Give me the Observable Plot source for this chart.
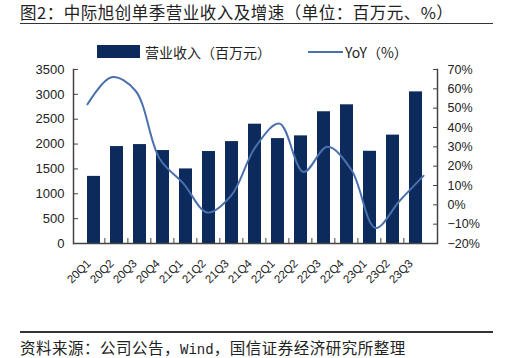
<!DOCTYPE html>
<html><head><meta charset="utf-8">
<script src="https://cdn.jsdelivr.net/npm/d3@7"></script>
<script src="https://cdn.jsdelivr.net/npm/@observablehq/plot@0.6"></script>
<style>
body{margin:0;background:#fff}
#wrap{position:relative;width:514px;height:358px;background:#fff;font-family:"Noto Sans CJK SC","Noto Sans",sans-serif;color:#222}
.abs{position:absolute;white-space:nowrap}
#title{left:20px;top:1px;font-size:16.5px;line-height:22px;letter-spacing:0.5px}
.leg{font-size:14px;line-height:20px;top:42px}
#src{left:20px;top:336px;font-size:15.5px;line-height:22px;letter-spacing:0.5px}
.mono{font-family:"Liberation Mono","DejaVu Sans Mono",monospace;font-size:14px;letter-spacing:0}
</style></head><body>
<div id="wrap">
  <div id="title" class="abs">图2：中际旭创单季营业收入及增速（单位：百万元、%）</div>
  <div class="abs" style="left:20px;top:22.5px;width:473px;height:1.5px;background:#333"></div>
  <div id="p1" class="abs" style="left:0;top:0"></div>
  <div id="p2" class="abs" style="left:0;top:0"></div>
  <div class="abs" style="left:97px;top:45px;width:43px;height:13px;background:#0c2b5c"></div>
  <div class="abs leg" style="left:145px">营业收入（百万元）</div>
  <div class="abs" style="left:308px;top:51px;width:35px;height:2px;background:#4a70ad"></div>
  <div class="abs leg" style="left:345px">YoY（%）</div>
  <div class="abs" style="left:20px;top:331px;width:473px;height:1.5px;background:#333"></div>
  <div id="src" class="abs">资料来源：公司公告，<span class="mono">Wind</span>，国信证券经济研究所整理</div>
</div>
<script>
const quarters = ["20Q1","20Q2","20Q3","20Q4","21Q1","21Q2","21Q3","21Q4","22Q1","22Q2","22Q3","22Q4","23Q1","23Q2","23Q3"];
const revenue = [1350,1950,1990,1870,1500,1850,2050,2400,2110,2165,2650,2790,1855,2180,3050];
const yoy = [52,66,59,24,11,-4,5,30,42,17,30,18,-12,2,15];
const revTicks = [0,500,1000,1500,2000,2500,3000,3500];
const yoyTicks = [-20,-10,0,10,20,30,40,50,60,70];

const navy = "#0c2b5c", lineColor = "#4a70ad", axisColor = "#444";
const data = quarters.map((q, i) => ({q, rev: revenue[i], yoy: yoy[i]}));

const W = 514, H = 300, mL = 73, mR = 77, mT = 69, mB = 57;
const step = (W - mL - mR) / quarters.length;
const common = {
  width: W, height: H, marginLeft: mL, marginRight: mR, marginTop: mT, marginBottom: mB,
  style: {fontFamily: '"Liberation Sans", Arial, sans-serif', fontSize: "13px", color: "#222", background: "transparent", overflow: "visible"}
};

const p1 = Plot.plot({
  ...common,
  x: {domain: quarters, padding: 0.42, axis: null},
  y: {domain: [0, 3500], axis: null},
  marks: [
    Plot.barY(data, {x: "q", y: "rev", fill: navy}),
    Plot.ruleY([0], {stroke: axisColor, strokeWidth: 1.5}),
    Plot.frame({anchor: "left", stroke: axisColor, strokeWidth: 1.5}),
    Plot.ruleX(quarters.slice(1), {x: d => d, y1: 0, y2: 100, dx: -step / 2, stroke: axisColor}),
    Plot.axisY({ticks: revTicks, tickSize: 5, dx: 5, tickFormat: () => "", label: null, stroke: axisColor}),
    Plot.axisY({ticks: revTicks, tickSize: 0, tickPadding: 9, tickFormat: d => String(d), label: null, fontSize: 13}),
    Plot.text(quarters, {x: d => d, text: d => d, frameAnchor: "bottom", rotate: -45, textAnchor: "end",
      lineAnchor: "middle", dx: -5, dy: 18, fontSize: 11.5, fill: "#222"})
  ]
});
document.getElementById("p1").appendChild(p1);

const p2 = Plot.plot({
  ...common,
  x: {domain: quarters, padding: 0.42, axis: null},
  y: {domain: [-20, 70], axis: null},
  marks: [
    Plot.line(data, {x: "q", y: "yoy", curve: "catmull-rom", stroke: lineColor, strokeWidth: 2}),
    Plot.frame({anchor: "right", stroke: axisColor, strokeWidth: 1.5}),
    Plot.axisY({anchor: "right", ticks: yoyTicks, tickSize: 5, dx: -5, tickFormat: () => "", label: null, stroke: axisColor}),
    Plot.axisY({anchor: "right", ticks: yoyTicks, tickSize: 0, tickPadding: 10, fontSize: 12.5, label: null,
      tickFormat: d => (d < 0 ? "\u2212" + Math.abs(d) : String(d)) + "%"})
  ]
});
document.getElementById("p2").appendChild(p2);
</script>
</body></html>
